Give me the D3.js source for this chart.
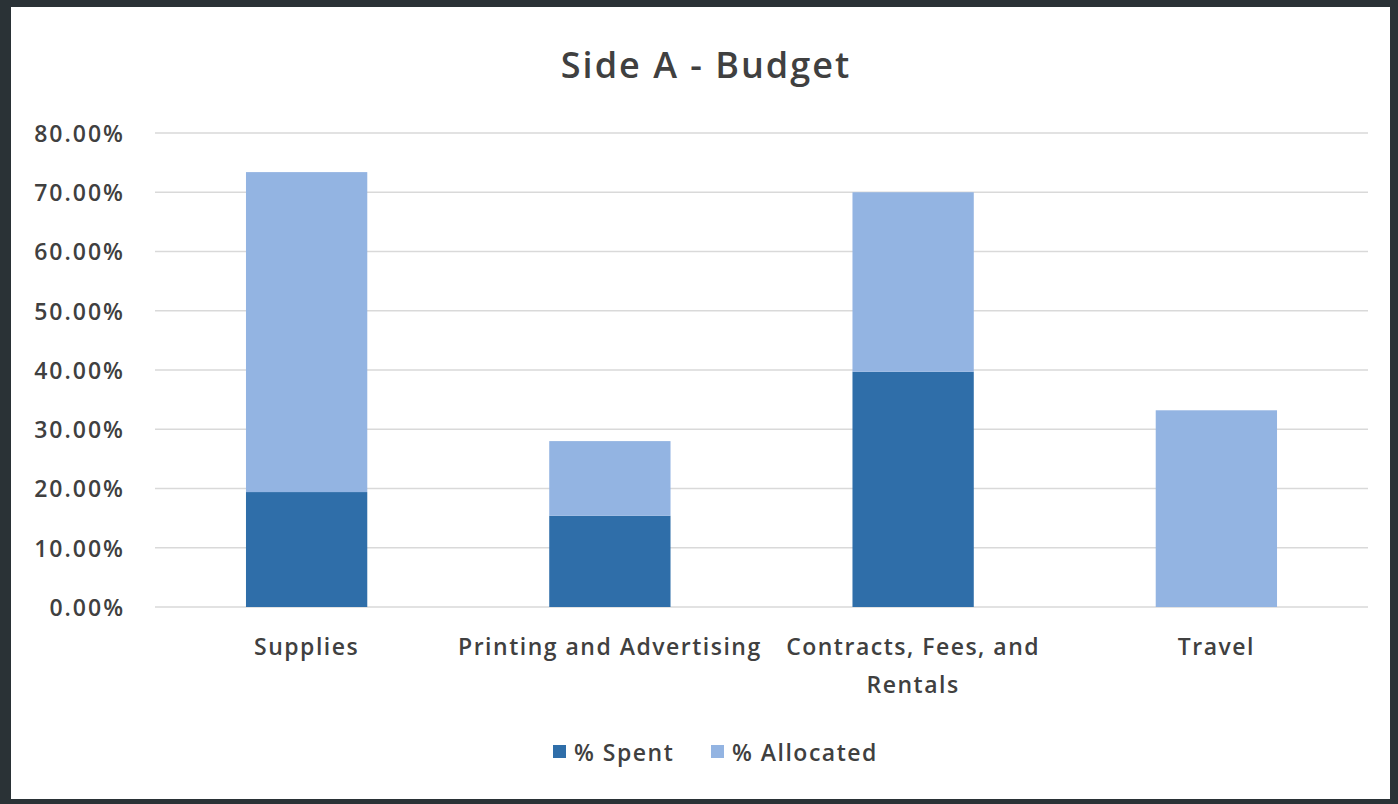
<!DOCTYPE html>
<html>
<head>
<meta charset="utf-8">
<script src="https://cdn.jsdelivr.net/npm/d3@7"></script>
<style>
  body { margin: 0; background: #2a3236; }
  svg { display: block; }
  text { font-family: "Open Sans", "Noto Sans", sans-serif; fill: #404040; font-weight: 600; }
</style>
</head>
<body>
<script>
// Side A - Budget, stacked columns

var categories = ["Supplies", "Printing and Advertising", "Contracts, Fees, and Rentals", "Travel"];
var spent = [0.194, 0.154, 0.397, 0.0];
var allocated = [0.540, 0.126, 0.303, 0.332];
var seriesNames = ["% Spent", "% Allocated"];
var tickValues = [0, 0.1, 0.2, 0.3, 0.4, 0.5, 0.6, 0.7, 0.8];

var w = 1398, h = 804;
var colors = ["#2f6ea9", "#93b4e2"];

var svg = d3.select("body").append("svg")
  .attr("width", w)
  .attr("height", h);

// white chart area inside the dark frame
svg.append("rect")
  .attr("x", 11).attr("y", 7)
  .attr("width", w - 19).attr("height", h - 12)
  .style("fill", "#ffffff");

var plot = {left: 155, right: 1368, top: 133, bottom: 607};

var x = d3.scaleBand()
  .domain(categories)
  .range([plot.left, plot.right])
  .paddingInner(0.6)
  .paddingOuter(0.3);

var y = d3.scaleLinear()
  .domain([0, 0.8])
  .range([plot.bottom, plot.top]);

// gridlines
svg.append("g")
  .selectAll("line")
  .data(tickValues)
  .join("line")
  .attr("x1", plot.left).attr("x2", plot.right)
  .attr("y1", function(d){ return y(d); })
  .attr("y2", function(d){ return y(d); })
  .style("stroke", "#d9d9d9")
  .style("stroke-width", 1.5);

// y axis labels
var yAxis = d3.axisLeft(y)
  .tickValues(tickValues)
  .tickFormat(d3.format(".2%"))
  .tickSize(0)
  .tickPadding(0);

var yg = svg.append("g")
  .attr("transform", "translate(125,1)")
  .call(yAxis);
yg.select(".domain").remove();
yg.selectAll("text")
  .style("font-family", "'Open Sans', sans-serif")
  .style("font-weight", 600)
  .style("font-size", "23px")
  .style("letter-spacing", "2px")
  .style("fill", "#404040");

// stacked bars
var rows = categories.map(function(c, i){
  return {cat: c, "% Spent": spent[i], "% Allocated": allocated[i]};
});
var stacked = d3.stack().keys(seriesNames)(rows);

svg.append("g")
  .selectAll("g")
  .data(stacked)
  .join("g")
  .style("fill", function(d, i){ return colors[i]; })
  .selectAll("rect")
  .data(function(d){ return d; })
  .join("rect")
  .attr("x", function(d){ return x(d.data.cat); })
  .attr("width", x.bandwidth())
  .attr("y", function(d){ return y(d[1]); })
  .attr("height", function(d){ return y(d[0]) - y(d[1]); });

// category labels (wrapped like Excel)
var xLabels = {
  "Supplies": ["Supplies"],
  "Printing and Advertising": ["Printing and Advertising"],
  "Contracts, Fees, and Rentals": ["Contracts, Fees, and", "Rentals"],
  "Travel": ["Travel"]
};
var xg = svg.append("g");
categories.forEach(function(c){
  var t = xg.append("text")
    .attr("x", x(c) + x.bandwidth() / 2)
    .attr("y", 655)
    .attr("text-anchor", "middle")
    .style("font-size", "23px")
    .style("letter-spacing", "1.5px");
  xLabels[c].forEach(function(line, j){
    t.append("tspan")
      .attr("x", x(c) + x.bandwidth() / 2)
      .attr("dy", j === 0 ? 0 : 38)
      .text(line);
  });
});

// title
svg.append("text")
  .attr("x", 706)
  .attr("y", 78)
  .attr("text-anchor", "middle")
  .style("font-size", "36px")
  .style("letter-spacing", "2px")
  .text("Side A - Budget");

// legend
var legendX = [553, 711];
var legend = svg.append("g")
  .selectAll("g")
  .data(seriesNames)
  .join("g")
  .attr("transform", function(d, i){ return "translate(" + legendX[i] + ",752)"; });
legend.append("rect")
  .attr("x", 0).attr("y", -7)
  .attr("width", 13).attr("height", 13)
  .style("fill", function(d, i){ return colors[i]; });
legend.append("text")
  .attr("x", 21)
  .attr("y", 9)
  .style("font-size", "23px")
  .style("letter-spacing", "1.5px")
  .text(function(d){ return d; });
</script>
</body>
</html>
